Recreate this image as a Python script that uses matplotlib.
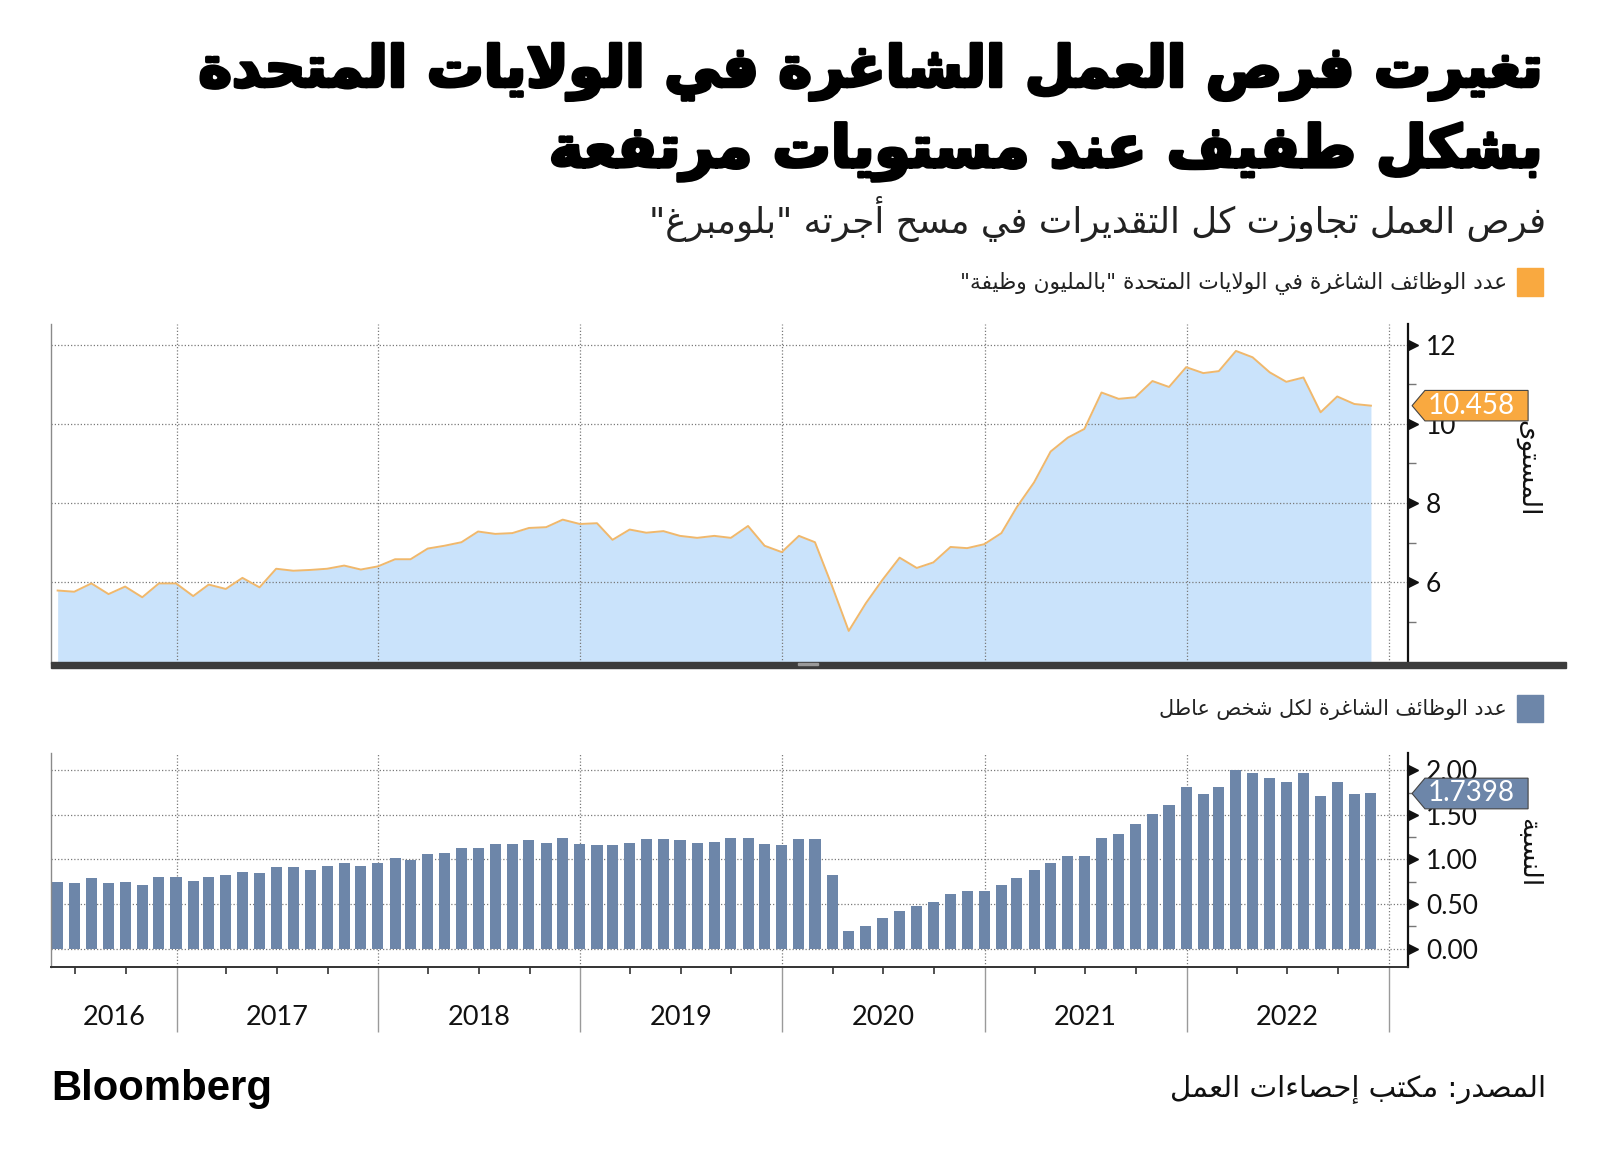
import numpy as np
import pandas as pd
import matplotlib
matplotlib.use("Agg")
import matplotlib.pyplot as plt
import matplotlib.patheffects as pe
from matplotlib.transforms import blended_transform_factory
from matplotlib.patches import Polygon, Rectangle

# job openings, millions (May 2016 .. Nov 2022)
openings = [5.79, 5.76, 5.97, 5.70, 5.89, 5.62, 5.97, 5.97,
            5.65, 5.94, 5.83, 6.11, 5.87, 6.34, 6.29, 6.31, 6.34, 6.42, 6.32, 6.40,
            6.58, 6.58, 6.85, 6.92, 7.01, 7.28, 7.22, 7.24, 7.37, 7.39, 7.58, 7.47,
            7.49, 7.07, 7.33, 7.25, 7.29, 7.17, 7.12, 7.17, 7.12, 7.42, 6.92, 6.76,
            7.17, 7.01, 5.90, 4.77, 5.47, 6.06, 6.62, 6.36, 6.50, 6.89, 6.86, 6.96,
            7.24, 7.90, 8.52, 9.30, 9.65, 9.87, 10.79, 10.63, 10.67, 11.08, 10.93, 11.43,
            11.28, 11.33, 11.84, 11.68, 11.30, 11.06, 11.17, 10.29, 10.69, 10.50, 10.458]

# openings per unemployed person
ratio = [0.743, 0.735, 0.788, 0.732, 0.743, 0.717, 0.803, 0.803,
         0.758, 0.803, 0.829, 0.859, 0.844, 0.916, 0.916, 0.886, 0.931, 0.957, 0.931, 0.957,
         1.017, 0.998, 1.058, 1.073, 1.129, 1.129, 1.171, 1.171, 1.216, 1.186, 1.242, 1.171,
         1.159, 1.159, 1.186, 1.227, 1.227, 1.216, 1.186, 1.201, 1.242, 1.242, 1.171, 1.159,
         1.227, 1.227, 0.829, 0.203, 0.259, 0.345, 0.417, 0.477, 0.518, 0.615, 0.645, 0.645,
         0.717, 0.788, 0.886, 0.957, 1.043, 1.043, 1.242, 1.283, 1.396, 1.512, 1.610, 1.809,
         1.737, 1.809, 2.000, 1.970, 1.910, 1.865, 1.970, 1.711, 1.865, 1.737, 1.7398]

months = pd.date_range("2016-05-31", periods=len(openings), freq="ME")
years = ["2016", "2017", "2018", "2019", "2020", "2021", "2022"]
last_open = "10.458"
last_ratio = "1.7398"

title_1 = "تغيرت فرص العمل الشاغرة في الولايات المتحدة"
title_2 = "بشكل طفيف عند مستويات مرتفعة"
subtitle = "فرص العمل تجاوزت كل التقديرات في مسح أجرته \"بلومبرغ\""
legend_1 = "عدد الوظائف الشاغرة في الولايات المتحدة \"بالمليون وظيفة\""
legend_2 = "عدد الوظائف الشاغرة لكل شخص عاطل"
source = "المصدر: مكتب إحصاءات العمل"
ylab_1 = "المستوى"
ylab_2 = "النسبة"

# --- minimal arabic shaping (presentation forms) + right-to-left order ---
_spec = [("ء", 0xFE80, 1), ("آ", 0xFE81, 2), ("أ", 0xFE83, 2), ("ؤ", 0xFE85, 2),
         ("إ", 0xFE87, 2), ("ئ", 0xFE89, 4), ("ا", 0xFE8D, 2), ("ب", 0xFE8F, 4),
         ("ة", 0xFE93, 2), ("ت", 0xFE95, 4), ("ث", 0xFE99, 4), ("ج", 0xFE9D, 4),
         ("ح", 0xFEA1, 4), ("خ", 0xFEA5, 4), ("د", 0xFEA9, 2), ("ذ", 0xFEAB, 2),
         ("ر", 0xFEAD, 2), ("ز", 0xFEAF, 2), ("س", 0xFEB1, 4), ("ش", 0xFEB5, 4),
         ("ص", 0xFEB9, 4), ("ض", 0xFEBD, 4), ("ط", 0xFEC1, 4), ("ظ", 0xFEC5, 4),
         ("ع", 0xFEC9, 4), ("غ", 0xFECD, 4), ("ف", 0xFED1, 4), ("ق", 0xFED5, 4),
         ("ك", 0xFED9, 4), ("ل", 0xFEDD, 4), ("م", 0xFEE1, 4), ("ن", 0xFEE5, 4),
         ("ه", 0xFEE9, 4), ("و", 0xFEED, 2), ("ى", 0xFEEF, 2), ("ي", 0xFEF1, 4)]
FORMS = {c: (s, k) for c, s, k in _spec}
LAM_ALEF = {"آ": 0xFEF5, "أ": 0xFEF7, "إ": 0xFEF9, "ا": 0xFEFB}


def ar(s):
    out = []
    prev = False
    i = 0
    while i < len(s):
        c = s[i]
        if c not in FORMS:
            out.append(c)
            prev = False
            i += 1
            continue
        start, k = FORMS[c]
        nxt = s[i + 1] if i + 1 < len(s) else ""
        if c == "ل" and nxt in LAM_ALEF:
            out.append(chr(LAM_ALEF[nxt] + (1 if prev else 0)))
            prev = False
            i += 2
            continue
        has_next = k == 4 and nxt in FORMS and FORMS[nxt][1] > 1
        if k == 1:
            f = 0
        elif prev and has_next:
            f = 3
        elif prev:
            f = 1
        elif has_next:
            f = 2
        else:
            f = 0
        out.append(chr(start + f))
        prev = has_next
        i += 1
    return "".join(reversed(out))


W, H = 1600, 1166
fig = plt.figure(figsize=(16, 11.66), dpi=100)
fig.patch.set_facecolor("white")


def fx(px):
    return px / W


def fy(py):
    return 1 - py / H


renderer = fig.canvas.get_renderer()


def fit(t, width_px):
    w = t.get_window_extent(renderer).width
    t.set_fontsize(t.get_fontsize() * width_px / w)


AR = "DejaVu Sans"
NUM = "Lato"
ORANGE = "#f9a940"
LINE = "#f0b86c"
FILL = "#cae3fb"
BAR = "#6d86a9"
GRID = "#7a7a7a"

# titles (stroke makes the bold face look heavier, like the original)
heavy = [pe.withStroke(linewidth=2.5, foreground="black")]
t = fig.text(fx(1544), fy(72), ar(title_1), ha="right", va="center",
             family=AR, weight="bold", fontsize=40, path_effects=heavy)
fit(t, 1343)
t = fig.text(fx(1544), fy(152), ar(title_2), ha="right", va="center",
             family=AR, weight="bold", fontsize=40, path_effects=heavy)
fit(t, 994)
t = fig.text(fx(1546), fy(219), ar(subtitle), ha="right", va="center",
             family=AR, fontsize=24, color="#222222")
fit(t, 901)

# legends
fig.patches.append(Rectangle((fx(1517), fy(296)), fx(26), 28 / H, color=ORANGE,
                             transform=fig.transFigure))
t = fig.text(fx(1507), fy(283), ar(legend_1), ha="right", va="center",
             family=AR, fontsize=16, color="#222222")
fit(t, 551)
fig.patches.append(Rectangle((fx(1517), fy(722)), fx(26), 27 / H, color=BAR,
                             transform=fig.transFigure))
t = fig.text(fx(1507), fy(710), ar(legend_2), ha="right", va="center",
             family=AR, fontsize=16, color="#222222")
fit(t, 347)

ax1 = fig.add_axes([fx(51), fy(663), fx(1408) - fx(51), (663 - 324) / H])
ax2 = fig.add_axes([fx(51), fy(967), fx(1408) - fx(51), (967 - 753) / H])

x0, x1 = pd.Timestamp("2016-05-19"), pd.Timestamp("2023-02-05")
year_starts = pd.date_range("2017-01-01", "2023-01-01", freq="YS")
quarters = [d for d in pd.date_range("2016-07-01", "2023-01-01", freq="QS")
            if d.month != 1]

ax1.fill_between(months, openings, 0, color=FILL, lw=0, zorder=1)
ax1.plot(months, openings, color=LINE, lw=1.4, zorder=3)
ax1.set_ylim(3.96, 12.52)
ax1.set_yticks([6, 8, 10, 12])
ax1.set_yticks([5, 7, 9, 11], minor=True)
ax1.set_yticklabels(["6", "8", "10", "12"])

ax2.bar(months, ratio, width=20, color=BAR, zorder=2)
ax2.set_ylim(-0.206, 2.194)
ax2.set_yticks([0, 0.5, 1.0, 1.5, 2.0])
ax2.set_yticks([0.25, 0.75, 1.25, 1.75], minor=True)
ax2.set_yticklabels(["0.00", "0.50", "1.00", "1.50", "2.00"])

for ax, gz in ((ax1, 2), (ax2, 1)):
    ax.set_xlim(x0, x1)
    ax.set_facecolor("none")
    ax.spines["top"].set_visible(False)
    ax.spines["left"].set_color("#8a8a8a")
    ax.spines["left"].set_linewidth(1.0)
    ax.spines["right"].set_color("#111111")
    ax.spines["right"].set_linewidth(1.6)
    ax.yaxis.tick_right()
    ax.tick_params(axis="y", which="major", length=0, pad=13, labelsize=19,
                   labelcolor="#111111")
    ax.tick_params(axis="y", which="minor", length=6, width=1.0, color="#777777")
    for lab in ax.get_yticklabels():
        lab.set_family(NUM)
    for d in year_starts:
        ax.axvline(d, color=GRID, lw=0.9, ls=(0, (1, 1.6)), zorder=gz)
    for v in ax.get_yticks():
        ax.axhline(v, color=GRID, lw=0.9, ls=(0, (1, 1.6)), zorder=gz)
    tr = blended_transform_factory(ax.transAxes, ax.transData)
    ax.plot([1.004] * len(ax.get_yticks()), ax.get_yticks(), ls="none", marker=">",
            markersize=7, color="#111111", transform=tr, clip_on=False, zorder=5)

ax1.set_xticks([])
ax1.spines["bottom"].set_visible(False)

ax2.spines["bottom"].set_color("#333333")
ax2.spines["bottom"].set_linewidth(1.4)
ax2.set_xticks(list(year_starts))
ax2.set_xticklabels([])
ax2.set_xticks(quarters, minor=True)
ax2.tick_params(axis="x", which="major", length=47, width=1.0, color="#9a9a9a")
ax2.tick_params(axis="x", which="minor", length=5, width=1.2, color="#333333")

# year labels
trx = blended_transform_factory(ax2.transData, ax2.transAxes)
label_pos = [x0 + (year_starts[0] - x0) / 2] + [pd.Timestamp(f"{y}-07-02") for y in years[1:]]
for pos, y in zip(label_pos, years):
    ax2.text(pos, -0.235, y, transform=trx, ha="center", va="center",
             family=NUM, fontsize=19.5, color="#111111")

# thick separator under top panel
fig.patches.append(Rectangle((fx(51), fy(668)), fx(1566 - 51), 6 / H,
                             color="#3c3c3c", transform=fig.transFigure, zorder=6))
fig.patches.append(Rectangle((fx(798), fy(665)), fx(20), 2 / H,
                             color="#9a9a9a", transform=fig.transFigure, zorder=7))

# rotated axis names, partially covered by the value tags
fig.text(fx(1528), fy(517), ar(ylab_1), rotation=-90, ha="center", va="bottom",
         family=AR, fontsize=19, color="#111111")
fig.text(fx(1528), fy(887), ar(ylab_2), rotation=-90, ha="center", va="bottom",
         family=AR, fontsize=19, color="#111111")


def tag(ax, value, text, color, half):
    tr = blended_transform_factory(ax.transAxes, ax.transData)
    a, b, c = 1.003, 1.0125, 1.0885
    pts = [(a, value), (b, value + half), (c, value + half), (c, value - half), (b, value - half)]
    ax.add_patch(Polygon(pts, closed=True, facecolor=color, edgecolor="#444444", lw=0.8,
                         transform=tr, clip_on=False, zorder=10))
    ax.text(1.0145, value, text, transform=tr, ha="left", va="center", family=NUM,
            fontsize=20, color="white", zorder=11, clip_on=False)


tag(ax1, openings[-1], last_open, ORANGE, 0.385)
tag(ax2, ratio[-1], last_ratio, BAR, 0.172)

# footer
t = fig.text(fx(51), fy(1089), "Bloomberg", ha="left", va="center",
             family="Liberation Sans", weight="bold", fontsize=28)
fit(t, 221)
t = fig.text(fx(1546), fy(1090), ar(source), ha="right", va="center",
             family=AR, fontsize=20, color="#111111")
fit(t, 376)

fig.savefig("out.png", dpi=100)
